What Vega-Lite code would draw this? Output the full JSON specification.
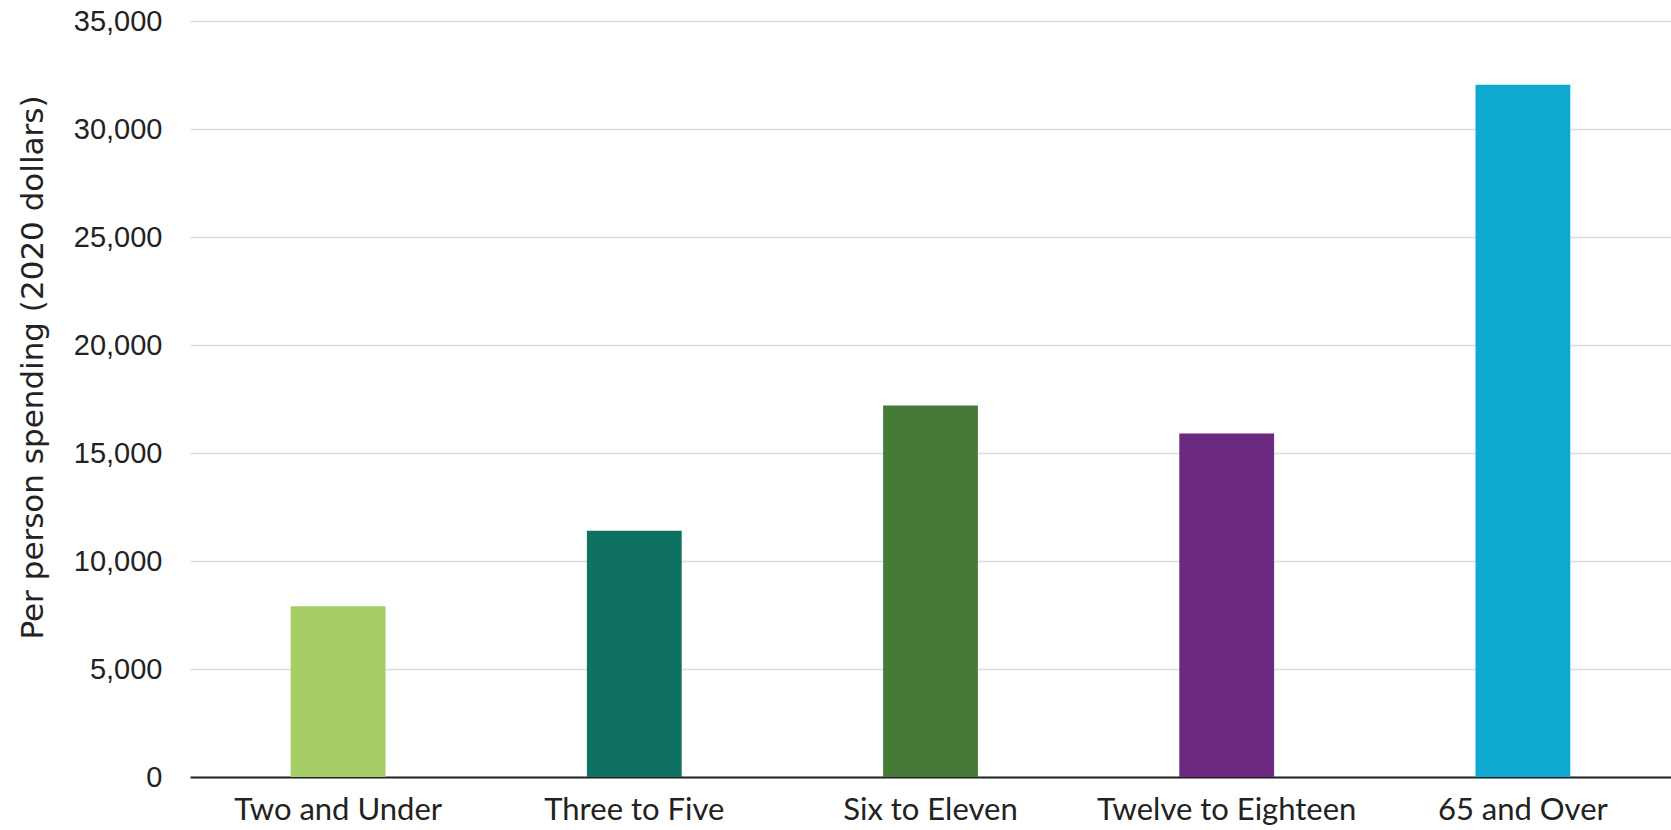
{
  "$schema": "https://vega.github.io/schema/vega-lite/v6.json",
  "autosize": "none",
  "width": 1481,
  "height": 756,
  "padding": {"left": 190, "top": 21, "right": 0, "bottom": 53},
  "background": "white",
  "data": {
    "values": [
      {"group": "Two and Under", "spending": 7900},
      {"group": "Three to Five", "spending": 11400},
      {"group": "Six to Eleven", "spending": 17200},
      {"group": "Twelve to Eighteen", "spending": 15900},
      {"group": "65 and Over", "spending": 32050}
    ]
  },
  "mark": {"type": "bar"},
  "encoding": {
    "x": {
      "field": "group",
      "type": "nominal",
      "sort": null,
      "scale": {"paddingInner": 0.68, "paddingOuter": 0.34},
      "axis": {
        "title": null,
        "labelAngle": 0,
        "labelFont": "Lato",
        "labelFontSize": 31,
        "labelColor": "#222",
        "labelPadding": 18,
        "labelLimit": 0,
        "ticks": false,
        "domainColor": "#222",
        "domainWidth": 2,
        "grid": false
      }
    },
    "y": {
      "field": "spending",
      "type": "quantitative",
      "scale": {"domain": [0, 35000], "nice": false},
      "axis": {
        "title": "Per person spending (2020 dollars)",
        "titleFont": "DejaVu Sans",
        "titleFontSize": 31,
        "titleFontWeight": "normal",
        "titleColor": "#222",
        "titleX": -141,
        "titleY": 346,
        "titleAnchor": "middle",
        "values": [0, 5000, 10000, 15000, 20000, 25000, 30000, 35000],
        "format": ",d",
        "labelFont": "Liberation Sans",
        "labelFontSize": 29,
        "labelColor": "#222",
        "labelPadding": 28,
        "ticks": false,
        "domain": false,
        "grid": true,
        "gridColor": "#dcdcdc",
        "gridWidth": 1.5
      }
    },
    "color": {
      "field": "group",
      "type": "nominal",
      "sort": null,
      "scale": {
        "domain": ["Two and Under", "Three to Five", "Six to Eleven", "Twelve to Eighteen", "65 and Over"],
        "range": ["#a5cd66", "#0e7161", "#457a39", "#6b2a80", "#0ea8d0"]
      },
      "legend": null
    }
  },
  "config": {"view": {"stroke": null}}
}
